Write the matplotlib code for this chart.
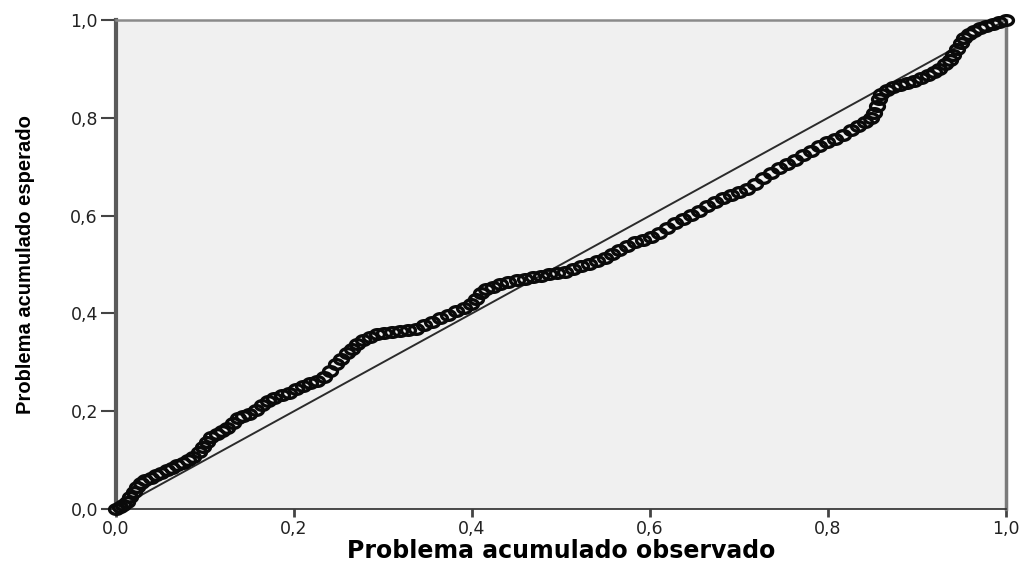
import numpy as np
import matplotlib
matplotlib.use('Agg')
import matplotlib.pyplot as plt
from matplotlib.path import Path

obs = [0.000, 0.004, 0.008, 0.012, 0.016, 0.020, 0.024, 0.028, 0.033, 0.039,
       0.045, 0.051, 0.057, 0.063, 0.069, 0.075, 0.081, 0.087, 0.093, 0.098,
       0.102, 0.107, 0.113, 0.119, 0.125, 0.131, 0.137, 0.143, 0.150, 0.157,
       0.164, 0.171, 0.178, 0.186, 0.194, 0.202, 0.210, 0.218, 0.226, 0.234,
       0.241, 0.247, 0.253, 0.259, 0.265, 0.271, 0.278, 0.285, 0.293, 0.301,
       0.310, 0.319, 0.328, 0.337, 0.346, 0.355, 0.364, 0.373, 0.382, 0.391,
       0.399, 0.405, 0.410, 0.416, 0.424, 0.432, 0.441, 0.450, 0.459, 0.468,
       0.477, 0.486, 0.495, 0.504, 0.513, 0.522, 0.531, 0.540, 0.549, 0.557,
       0.565, 0.574, 0.583, 0.592, 0.601, 0.610, 0.619, 0.628, 0.637, 0.646,
       0.655, 0.664, 0.673, 0.682, 0.691, 0.700, 0.709, 0.718, 0.727, 0.736,
       0.745, 0.754, 0.763, 0.772, 0.781, 0.790, 0.799, 0.808, 0.817, 0.826,
       0.834, 0.842, 0.848, 0.852, 0.855, 0.857, 0.860, 0.866, 0.873, 0.881,
       0.889, 0.897, 0.905, 0.912, 0.919, 0.925, 0.931, 0.937, 0.941, 0.945,
       0.949, 0.953, 0.958, 0.964, 0.971, 0.978, 0.985, 0.992, 1.000]
esp = [0.000, 0.004, 0.009, 0.015, 0.024, 0.034, 0.045, 0.054, 0.060, 0.064,
       0.069, 0.074, 0.079, 0.084, 0.089, 0.094, 0.100, 0.107, 0.116, 0.127,
       0.138, 0.147, 0.154, 0.159, 0.166, 0.176, 0.186, 0.191, 0.195, 0.202,
       0.212, 0.221, 0.228, 0.233, 0.238, 0.245, 0.252, 0.258, 0.262, 0.270,
       0.283, 0.296, 0.307, 0.318, 0.328, 0.338, 0.346, 0.352, 0.357, 0.360,
       0.362, 0.364, 0.366, 0.369, 0.376, 0.383, 0.390, 0.397, 0.404, 0.411,
       0.420, 0.430, 0.441, 0.449, 0.455, 0.460, 0.464, 0.468, 0.471, 0.474,
       0.477, 0.480, 0.482, 0.485, 0.490, 0.496, 0.502, 0.507, 0.513, 0.522,
       0.530, 0.538, 0.545, 0.550, 0.557, 0.565, 0.574, 0.584, 0.593, 0.601,
       0.610, 0.619, 0.628, 0.636, 0.642, 0.648, 0.655, 0.665, 0.677, 0.688,
       0.697, 0.705, 0.714, 0.723, 0.733, 0.742, 0.750, 0.757, 0.765, 0.775,
       0.784, 0.792, 0.800, 0.810, 0.824, 0.838, 0.849, 0.856, 0.862, 0.867,
       0.871, 0.876, 0.882, 0.887, 0.893, 0.900, 0.909, 0.918, 0.929, 0.940,
       0.952, 0.963, 0.972, 0.978, 0.983, 0.987, 0.991, 0.996, 1.000]

ticks = [0.0, 0.2, 0.4, 0.6, 0.8, 1.0]
tick_labels = ['0,0', '0,2', '0,4', '0,6', '0,8', '1,0']

fig = plt.figure(figsize=(10.27, 5.65), dpi=100)
ax = fig.add_axes([116/1027, 1 - 509/565, 890/1027, 489/565])
ax.set_facecolor('#f0f0f0')
ax.set_xlim(0, 1)
ax.set_ylim(0, 1)

# linea diagonal de referencia
ax.plot([0, 1], [0, 1], color='#2b2b2b', lw=1.4, zorder=2)

# circulo ensanchado (la imagen original esta estirada en horizontal)
t = np.linspace(0, 2*np.pi, 41)
ellipse = Path(np.column_stack([np.cos(t), 0.7*np.sin(t)]), closed=True)
ax.plot(obs, esp, linestyle='none', marker=ellipse, ms=10, mfc='none',
        mec='#0a0a0a', mew=2.4, zorder=3, clip_on=False)

ax.spines['left'].set_color('#5a5a5a')
ax.spines['left'].set_linewidth(3)
ax.spines['right'].set_color('#7a7a7a')
ax.spines['right'].set_linewidth(2.5)
ax.spines['top'].set_color('#8a8a8a')
ax.spines['top'].set_linewidth(1.8)
ax.spines['bottom'].set_color('#2b2b2b')
ax.spines['bottom'].set_linewidth(1.2)

ax.set_xticks(ticks)
ax.set_xticklabels(tick_labels)
ax.set_yticks(ticks)
ax.set_yticklabels(tick_labels)
ax.tick_params(axis='y', length=11, width=1.5, color='#444444', pad=2,
               labelsize=12.5, labelcolor='#222222')
ax.tick_params(axis='x', length=6, width=2, color='#444444', pad=2,
               labelsize=12.5, labelcolor='#222222')

ax.set_xlabel('Problema acumulado observado', fontsize=17, fontweight='bold',
              family=['DejaVu Sans'], labelpad=1)
ax.set_ylabel('Problema acumulado esperado', fontsize=14.5, fontweight='bold',
              family=['Liberation Sans', 'DejaVu Sans'])
ax.yaxis.set_label_coords(-0.091, 0.5)

fig.savefig('out.png', dpi=100)
